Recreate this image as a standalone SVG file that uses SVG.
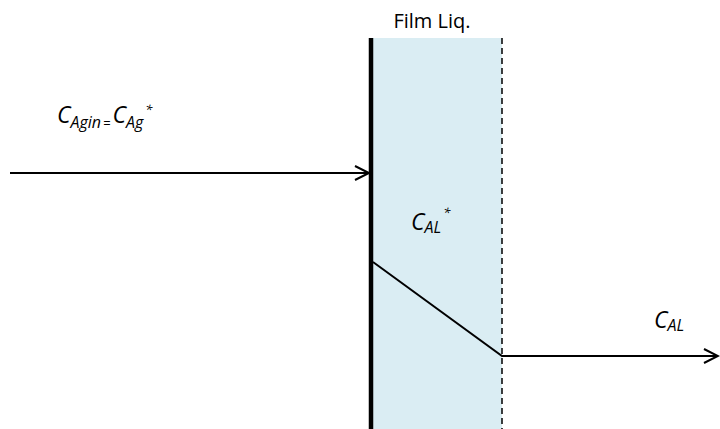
<svg xmlns="http://www.w3.org/2000/svg" width="720" height="429" viewBox="0 0 720 429">
<style>
.t{font-family:"Open Sans","Liberation Sans",sans-serif;fill:#000}
.i{font-style:italic}
.ln{stroke:#000;stroke-width:2;fill:none}
</style>
<defs>
<marker id="arr" markerWidth="20" markerHeight="20" refX="16" refY="8" orient="auto" markerUnits="userSpaceOnUse">
<path d="M2,1 L16,8 L2,15" fill="none" stroke="#000" stroke-width="2"/>
</marker>
</defs>
<rect width="720" height="429" fill="#fff"/>
<g id="film">
<rect x="373" y="38" width="129" height="391" fill="#daedf3"/>
<line x1="502" y1="38" x2="502" y2="429" stroke="#000" stroke-width="1.5" stroke-dasharray="6,4"/>
<line x1="371" y1="38" x2="371" y2="429" stroke="#000" stroke-width="4.5"/>
<text class="t" x="432" y="28" font-size="20" text-anchor="middle">Film Liq.</text>
</g>
<g id="connectors">
<line class="ln" x1="10" y1="173" x2="369" y2="173" marker-end="url(#arr)"/>
<polyline class="ln" points="373,262 502,356 718,356" marker-end="url(#arr)"/>
</g>
<g id="label-gas">
<text class="t i" x="57" y="123" font-size="23">C<tspan font-size="16" dy="5">Agin</tspan><tspan font-size="13" dx="2">=</tspan><tspan font-size="23" dx="2" dy="-5">C</tspan><tspan font-size="16" dy="5">Ag</tspan><tspan font-size="13" dx="2" dy="-14">*</tspan></text>
</g>
<g id="label-interface">
<text class="t i" x="411" y="230" font-size="23">C<tspan font-size="16" dy="3">AL</tspan><tspan font-size="13" dx="2" dy="-16">*</tspan></text>
</g>
<g id="label-bulk">
<text class="t i" x="654" y="328" font-size="23">C<tspan font-size="16" dy="3">AL</tspan></text>
</g>
</svg>
